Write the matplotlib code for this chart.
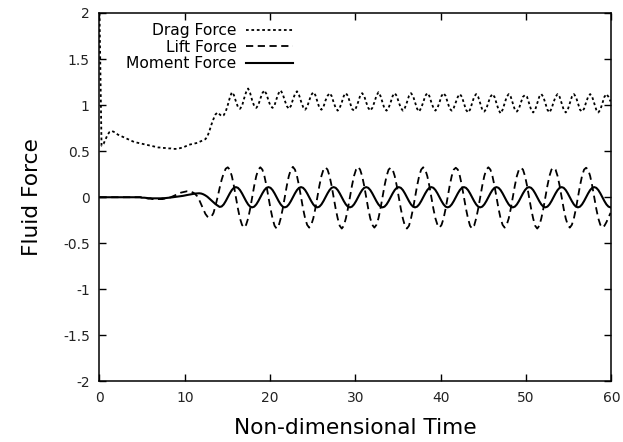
import numpy as np
import matplotlib
matplotlib.use('Agg')
import matplotlib.pyplot as plt

plt.rcParams['font.family'] = 'DejaVu Sans'
plt.rcParams['axes.unicode_minus'] = False

# sampling step of the time series (non-dimensional time)
dt = 0.2386

# values, one row = 16 samples
drag = [
    2.0, 0.56, 0.58, 0.63, 0.68, 0.71, 0.72, 0.71, 0.70, 0.68, 0.67, 0.66, 0.65, 0.64, 0.63, 0.62,
    0.61, 0.60, 0.595, 0.59, 0.585, 0.58, 0.575, 0.57, 0.565, 0.56, 0.555, 0.55, 0.545, 0.54, 0.54, 0.535,
    0.535, 0.53, 0.53, 0.53, 0.525, 0.525, 0.525, 0.53, 0.535, 0.54, 0.55, 0.56, 0.57, 0.575, 0.58, 0.585,
    0.59, 0.60, 0.61, 0.62, 0.63, 0.66, 0.72, 0.79, 0.85, 0.90, 0.92, 0.90, 0.88, 0.89, 0.93, 1.00,
    1.08, 1.14, 1.11, 1.04, 0.98, 0.96, 0.99, 1.07, 1.14, 1.18, 1.13, 1.05, 0.99, 0.97, 1.00, 1.07,
    1.13, 1.16, 1.12, 1.05, 0.99, 0.97, 1.00, 1.07, 1.13, 1.16, 1.12, 1.05, 0.99, 0.96, 0.99, 1.06,
    1.12, 1.15, 1.11, 1.04, 0.98, 0.95, 0.98, 1.05, 1.11, 1.14, 1.11, 1.04, 0.97, 0.95, 0.98, 1.05,
    1.10, 1.13, 1.10, 1.03, 0.97, 0.94, 0.97, 1.03, 1.10, 1.13, 1.10, 1.03, 0.96, 0.94, 0.97, 1.03,
    1.10, 1.13, 1.10, 1.03, 0.97, 0.94, 0.97, 1.03, 1.10, 1.14, 1.10, 1.03, 0.96, 0.94, 0.97, 1.03,
    1.10, 1.13, 1.10, 1.03, 0.97, 0.94, 0.97, 1.03, 1.10, 1.13, 1.10, 1.03, 0.96, 0.93, 0.97, 1.03,
    1.10, 1.13, 1.10, 1.03, 0.97, 0.94, 0.97, 1.03, 1.10, 1.13, 1.10, 1.03, 0.96, 0.94, 0.97, 1.03,
    1.09, 1.12, 1.09, 1.02, 0.95, 0.92, 0.95, 1.02, 1.09, 1.12, 1.09, 1.02, 0.95, 0.93, 0.96, 1.03,
    1.09, 1.12, 1.09, 1.02, 0.95, 0.91, 0.95, 1.02, 1.09, 1.12, 1.09, 1.02, 0.95, 0.93, 0.96, 1.03,
    1.09, 1.11, 1.09, 1.02, 0.95, 0.92, 0.95, 1.02, 1.09, 1.12, 1.09, 1.02, 0.95, 0.92, 0.96, 1.03,
    1.09, 1.12, 1.09, 1.02, 0.95, 0.92, 0.95, 1.02, 1.09, 1.12, 1.09, 1.02, 0.95, 0.93, 0.96, 1.03,
    1.09, 1.12, 1.09, 1.02, 0.95, 0.92, 0.95, 1.02, 1.09, 1.12, 1.09, 1.04,
]

lift = [
    0.0, 0.0, 0.0, 0.0, 0.0, 0.0, 0.0, 0.0, 0.0, 0.0, 0.0, 0.0, 0.0, 0.0, 0.0, 0.0,
    0.0, 0.0, 0.0, 0.0, 0.0, -0.005, -0.01, -0.01, -0.015, -0.015, -0.02, -0.02, -0.02, -0.02, -0.02, -0.02,
    -0.015, -0.01, -0.005, 0.0, 0.01, 0.02, 0.03, 0.04, 0.05, 0.055, 0.06, 0.065, 0.065, 0.06, 0.05, 0.035,
    0.01, -0.03, -0.08, -0.13, -0.18, -0.21, -0.22, -0.21, -0.17, -0.09, 0.0, 0.10, 0.19, 0.26, 0.31, 0.325,
    0.30, 0.23, 0.125, 0.0, -0.125, -0.23, -0.30, -0.33, -0.30, -0.23, -0.125, 0.0, 0.125, 0.23, 0.30, 0.325,
    0.30, 0.23, 0.125, 0.0, -0.125, -0.23, -0.31, -0.34, -0.31, -0.23, -0.125, 0.0, 0.125, 0.23, 0.30, 0.33,
    0.30, 0.23, 0.125, 0.0, -0.125, -0.23, -0.30, -0.33, -0.30, -0.23, -0.125, 0.0, 0.125, 0.23, 0.30, 0.325,
    0.30, 0.23, 0.125, 0.0, -0.125, -0.23, -0.31, -0.34, -0.31, -0.23, -0.125, 0.0, 0.125, 0.23, 0.30, 0.33,
    0.30, 0.23, 0.125, 0.0, -0.125, -0.23, -0.30, -0.33, -0.30, -0.23, -0.125, 0.0, 0.125, 0.23, 0.30, 0.32,
    0.30, 0.23, 0.125, 0.0, -0.125, -0.23, -0.31, -0.34, -0.31, -0.23, -0.125, 0.0, 0.125, 0.23, 0.30, 0.325,
    0.30, 0.23, 0.125, 0.0, -0.125, -0.23, -0.30, -0.33, -0.30, -0.23, -0.125, 0.0, 0.125, 0.23, 0.30, 0.32,
    0.30, 0.23, 0.125, 0.0, -0.125, -0.23, -0.31, -0.34, -0.31, -0.23, -0.125, 0.0, 0.125, 0.23, 0.30, 0.325,
    0.30, 0.23, 0.125, 0.0, -0.125, -0.23, -0.30, -0.33, -0.30, -0.23, -0.125, 0.0, 0.125, 0.23, 0.30, 0.32,
    0.30, 0.23, 0.125, 0.0, -0.125, -0.23, -0.31, -0.34, -0.31, -0.23, -0.125, 0.0, 0.125, 0.23, 0.30, 0.32,
    0.30, 0.23, 0.125, 0.0, -0.125, -0.23, -0.30, -0.33, -0.30, -0.23, -0.125, 0.0, 0.125, 0.23, 0.30, 0.32,
    0.30, 0.23, 0.125, 0.0, -0.125, -0.23, -0.30, -0.33, -0.31, -0.27, -0.22, -0.17,
]

moment = [
    0.0, 0.0, 0.0, 0.0, 0.0, 0.0, 0.0, 0.0, 0.0, 0.0, 0.0, 0.0, 0.0, 0.0, 0.0, 0.0,
    0.0, 0.0, 0.0, 0.0, 0.0, -0.005, -0.005, -0.008, -0.01, -0.01, -0.012, -0.012, -0.012, -0.012, -0.012, -0.01,
    -0.01, -0.008, -0.005, -0.003, 0.0, 0.002, 0.005, 0.008, 0.012, 0.015, 0.02, 0.024, 0.028, 0.032, 0.036, 0.04,
    0.042, 0.043, 0.04, 0.032, 0.02, 0.005, -0.015, -0.035, -0.055, -0.075, -0.09, -0.105, -0.10, -0.078, -0.042, 0.0,
    0.042, 0.078, 0.102, 0.11, 0.102, 0.078, 0.042, 0.0, -0.042, -0.078, -0.102, -0.11, -0.102, -0.078, -0.042, 0.0,
    0.042, 0.078, 0.102, 0.11, 0.102, 0.078, 0.042, 0.0, -0.042, -0.078, -0.102, -0.11, -0.102, -0.078, -0.042, 0.0,
    0.042, 0.078, 0.102, 0.11, 0.102, 0.078, 0.042, 0.0, -0.042, -0.078, -0.102, -0.11, -0.102, -0.078, -0.042, 0.0,
    0.042, 0.078, 0.102, 0.11, 0.102, 0.078, 0.042, 0.0, -0.042, -0.078, -0.102, -0.11, -0.102, -0.078, -0.042, 0.0,
    0.042, 0.078, 0.102, 0.11, 0.102, 0.078, 0.042, 0.0, -0.042, -0.078, -0.102, -0.11, -0.102, -0.078, -0.042, 0.0,
    0.042, 0.078, 0.102, 0.11, 0.102, 0.078, 0.042, 0.0, -0.042, -0.078, -0.102, -0.11, -0.102, -0.078, -0.042, 0.0,
    0.042, 0.078, 0.102, 0.11, 0.102, 0.078, 0.042, 0.0, -0.042, -0.078, -0.102, -0.11, -0.102, -0.078, -0.042, 0.0,
    0.042, 0.078, 0.102, 0.11, 0.102, 0.078, 0.042, 0.0, -0.042, -0.078, -0.102, -0.11, -0.102, -0.078, -0.042, 0.0,
    0.042, 0.078, 0.102, 0.11, 0.102, 0.078, 0.042, 0.0, -0.042, -0.078, -0.102, -0.11, -0.102, -0.078, -0.042, 0.0,
    0.042, 0.078, 0.102, 0.11, 0.102, 0.078, 0.042, 0.0, -0.042, -0.078, -0.102, -0.11, -0.102, -0.078, -0.042, 0.0,
    0.042, 0.078, 0.102, 0.11, 0.102, 0.078, 0.042, 0.0, -0.042, -0.078, -0.102, -0.11, -0.102, -0.078, -0.042, 0.0,
    0.042, 0.078, 0.102, 0.11, 0.102, 0.078, 0.042, 0.0, -0.042, -0.078, -0.102, -0.11,
]

x_ticks = [0, 10, 20, 30, 40, 50, 60]
y_ticks = [-2, -1.5, -1, -0.5, 0, 0.5, 1, 1.5, 2]
y_labels = ['-2', '-1.5', '-1', '-0.5', '0', '0.5', '1', '1.5', '2']

time = np.arange(len(lift)) * dt

fig = plt.figure(figsize=(6.23, 4.42), dpi=100)
ax = fig.add_axes([0.1597, 0.1369, 0.8218, 0.8337])

ax.plot(time, drag, color='black', lw=1.3, linestyle=(0, (1.5, 1.5)), label='Drag Force')
ax.plot(time, lift, color='black', lw=1.3, linestyle=(0, (4, 2.5)), label='Lift Force')
ax.plot(time, moment, color='black', lw=1.5, linestyle='-', label='Moment Force')

ax.set_xlim(0, 60)
ax.set_ylim(-2, 2)
ax.set_xticks(x_ticks)
ax.set_yticks(y_ticks)
ax.set_yticklabels(y_labels)
ax.tick_params(direction='in', length=5, width=1, top=True, right=True,
               labelsize=10, labelcolor='#222222', pad=7)
for s in ax.spines.values():
    s.set_linewidth(1.1)

ax.set_xlabel('Non-dimensional Time', fontsize=15.6, labelpad=9)
ax.set_ylabel('Fluid Force', fontsize=15.6, labelpad=15)

# gnuplot style key: text right-aligned, sample on the right
ax.legend(loc='upper left', bbox_to_anchor=(0.033, 1.0), frameon=False,
          markerfirst=False, fontsize=11.2, handlelength=3.0,
          handletextpad=0.6, labelspacing=0.1, borderaxespad=0.25)

plt.savefig('out.png', dpi=100)
plt.close()
